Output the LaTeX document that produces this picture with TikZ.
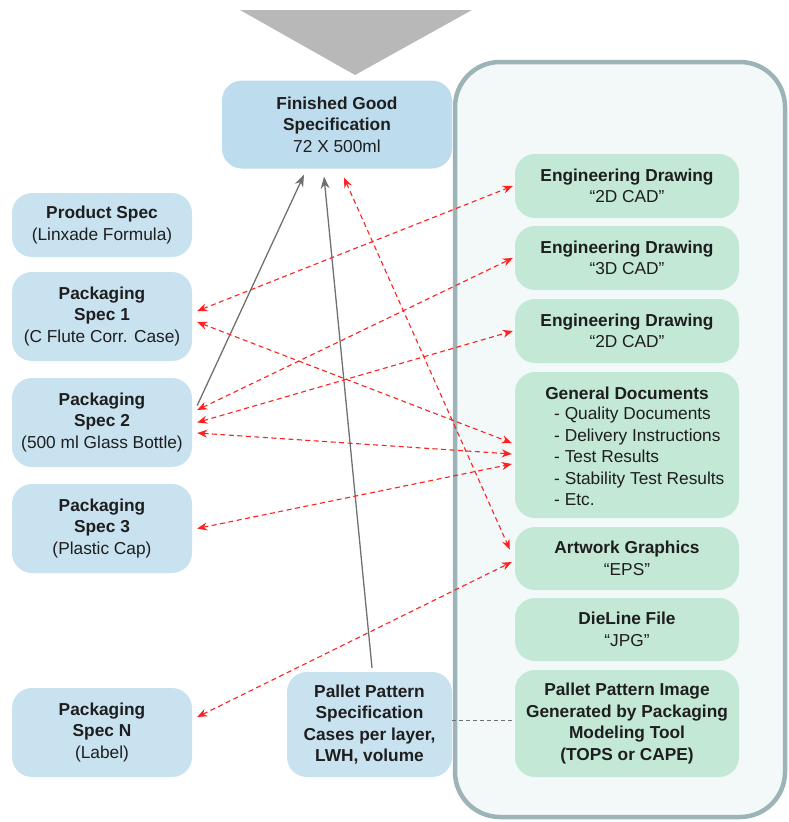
\documentclass[tikz,border=0pt]{standalone}
\usepackage{fontspec}
\setmainfont{Liberation Sans}
\usetikzlibrary{arrows.meta}
\definecolor{blueA}{HTML}{BDDCED}
\definecolor{blueB}{HTML}{C8E2F0}
\definecolor{greenA}{HTML}{C3E8D6}
\definecolor{contfill}{HTML}{F3F9F9}
\definecolor{contline}{HTML}{9CB3B7}
\definecolor{tri}{HTML}{B8B8B8}
\definecolor{txt}{HTML}{1E1E1E}
\definecolor{grayarr}{HTML}{707070}
\definecolor{redarr}{HTML}{FF2020}
\tikzset{
  box/.style={rounded corners=20pt, inner sep=0pt, align=center, text=txt,
    font=\fontsize{17.3}{21.5}\selectfont},
  bluebox/.style={box, fill=blueB, minimum width=180pt},
  greenbox/.style={box, fill=greenA, minimum width=224pt},
  redlink/.style={draw=redarr, line width=1.1pt, dash pattern=on 5pt off 3.5pt,
    {Stealth[length=10pt,width=8pt]}-{Stealth[length=10pt,width=8pt]}},
  graylink/.style={draw=grayarr, line width=1.3pt, -{Stealth[length=12pt,width=9pt]}},
}
\begin{document}
\begin{tikzpicture}[x=1pt,y=-1pt]
\useasboundingbox (0,0) rectangle (789,822);
% top triangle
\fill[tri] (240,10) -- (472,10) -- (355,75) -- cycle;
% container
\node (cont) [draw=contline, fill=contfill, line width=4.5pt, rounded corners=45pt,
  minimum width=330pt, minimum height=755pt] at (620,439.5) {};
% finished good
\node (fg) [box, fill=blueA, minimum width=230pt, minimum height=88pt] at (337,124.5)
  {\textbf{Finished Good}\\\textbf{Specification}\\72 X 500ml};
% left boxes
\node (ps) [bluebox, minimum height=64pt] at (102,225)
  {\textbf{Product Spec}\\(Linxade Formula)};
\node (p1) [bluebox, minimum height=89pt] at (102,316.5)
  {\textbf{Packaging}\\\textbf{Spec 1}\\(C Flute Corr. Case)};
\node (p2) [bluebox, minimum height=89pt] at (102,422.5)
  {\textbf{Packaging}\\\textbf{Spec 2}\\(500 ml Glass Bottle)};
\node (p3) [bluebox, minimum height=89pt] at (102,528.5)
  {\textbf{Packaging}\\\textbf{Spec 3}\\(Plastic Cap)};
\node (pn) [bluebox, minimum height=89pt] at (102,732.5)
  {\textbf{Packaging}\\\textbf{Spec N}\\(Label)};
\node (pp) [box, fill=blueB, minimum width=165pt, minimum height=105pt] at (369.5,724.5)
  {\textbf{Pallet Pattern}\\\textbf{Specification}\\\textbf{Cases per layer,}\\\textbf{LWH, volume}};
% right boxes
\node (e1) [greenbox, minimum height=64pt] at (627,186)
  {\textbf{Engineering Drawing}\\“2D CAD”};
\node (e2) [greenbox, minimum height=64pt] at (627,258)
  {\textbf{Engineering Drawing}\\“3D CAD”};
\node (e3) [greenbox, minimum height=64pt] at (627,331)
  {\textbf{Engineering Drawing}\\“2D CAD”};
\node (gd) [greenbox, minimum height=146pt] at (627,445) {};
\node (gdt) [box, anchor=center] at (627,393) {\textbf{General Documents}};
\node (gdi) [box, align=left, anchor=north west] at (554,407)
  {- Quality Documents\\- Delivery Instructions\\- Test Results\\- Stability Test Results\\- Etc.};
\node (ag) [greenbox, minimum height=63pt] at (627,558.5)
  {\textbf{Artwork Graphics}\\“EPS”};
\node (dl) [greenbox, minimum height=63pt] at (627,629.5)
  {\textbf{DieLine File}\\“JPG”};
\node (pi) [greenbox, minimum height=107pt] at (627,723.5)
  {\textbf{Pallet Pattern Image}\\\textbf{Generated by Packaging}\\\textbf{Modeling Tool}\\\textbf{(TOPS or CAPE)}};
% gray solid arrows
\draw[graylink] ([xshift=5pt,yshift=17pt]p2.east) -- ([xshift=-33pt,yshift=-6pt]fg.south);
\draw[graylink] ([xshift=2.5pt,yshift=4pt]pp.north) -- ([xshift=-13pt,yshift=-8pt]fg.south);
% gray dashed link
\draw[grayarr, line width=0.8pt, dash pattern=on 4pt off 3pt] ([yshift=4pt]pp.east) -- ([yshift=4pt]pp.east -| pi.west);
% red dashed links
\draw[redlink] ([xshift=5pt,yshift=5.5pt]p1.east) -- ([xshift=-2pt]e1.west);
\draw[redlink] ([xshift=5pt,yshift=-5.5pt]p1.east) -- ([xshift=-3pt,yshift=2pt]gd.west);
\draw[redlink] ([xshift=5pt,yshift=12.5pt]p2.east) -- ([xshift=-2pt]e2.west);
\draw[redlink] ([xshift=5pt]p2.east) -- ([xshift=-2pt]e3.west);
\draw[redlink] ([xshift=5pt,yshift=-10.5pt]p2.east) -- ([xshift=-3pt,yshift=-9pt]gd.west);
\draw[redlink] ([xshift=5pt]p3.east) -- ([xshift=-3pt,yshift=-19pt]gd.west);
\draw[redlink] ([xshift=5pt,yshift=15.5pt]pn.east) -- ([xshift=-3pt,yshift=-3.5pt]ag.west);
\draw[redlink] ([xshift=7pt,yshift=-9pt]fg.south) -- ([xshift=-5pt,yshift=9pt]ag.west);
\end{tikzpicture}
\end{document}
